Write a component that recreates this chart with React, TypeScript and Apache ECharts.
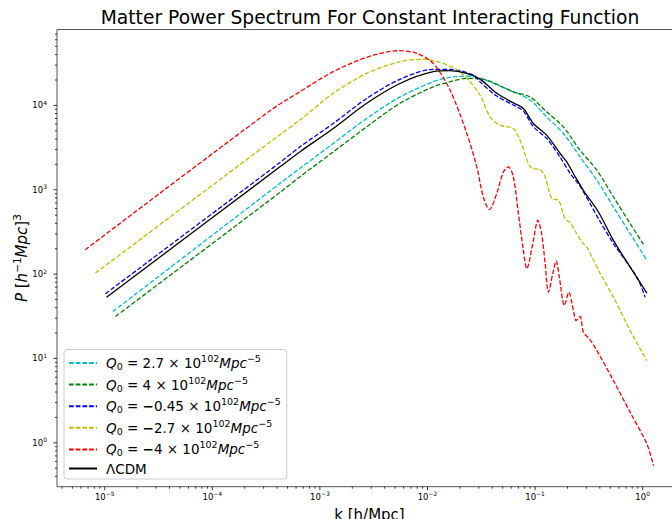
import React, { useEffect, useRef } from 'react';
import * as echarts from 'echarts';

const FONT = "'DejaVu Sans', 'Noto Sans', sans-serif";

// ---- data (k in h/Mpc, P in (Mpc/h)^3) ----
const kCyan = [1.19e-5, 4.25e-4, 6.5e-4, 1.33e-3, 2.72e-3, 5.55e-3, 1.13e-2, 1.62e-2, 2.32e-2, 3.08e-2, 6.28e-2, 8.98e-2, 0.128, 0.183, 0.262, 0.375, 0.535, 0.765, 1.094];
const pCyan = [36, 1190, 1790, 3540, 7010, 12600, 19100, 21500, 22300, 21000, 14500, 11600, 7320, 4650, 2450, 1300, 625, 302, 146];

const kGreen = [1.26e-5, 4.25e-4, 6.5e-4, 1.33e-3, 2.72e-3, 5.55e-3, 1.13e-2, 1.62e-2, 2.32e-2, 3.08e-2, 6.28e-2, 8.98e-2, 0.128, 0.183, 0.262, 0.375, 0.535, 0.765, 1.017];
const pGreen = [31.5, 930, 1420, 2810, 5570, 10600, 16600, 19100, 20900, 20700, 14500, 12600, 8400, 5570, 2940, 1710, 821, 397, 225];

const kBlue = [1.015e-5, 4.25e-4, 6.5e-4, 1.33e-3, 2.72e-3, 5.55e-3, 1.13e-2, 1.62e-2, 2.67e-2, 3.08e-2, 4.4e-2, 6.28e-2, 7.78e-2, 9.64e-2, 0.128, 0.171, 0.212, 0.262, 0.388, 0.535, 0.883, 1.054];
const pBlue = [58.5, 2100, 3220, 6110, 12100, 20400, 26800, 26800, 22900, 19000, 12900, 10100, 8550, 5600, 4060, 2430, 1560, 1100, 455, 230, 92, 53.3];

const kYellow = [8.2e-6, 4.25e-4, 6.5e-4, 1.33e-3, 2.72e-3, 5.55e-3, 9.14e-3, 1.4e-2, 1.62e-2, 1.87e-2, 2.32e-2, 3.08e-2, 3.81e-2, 4.72e-2, 6.28e-2, 7.25e-2, 9.31e-2, 0.111, 0.124, 0.143, 0.165, 0.19, 0.212, 0.244, 0.272, 0.303, 0.349, 0.396, 0.535, 0.765, 1.094];
const pYellow = [103, 4500, 6690, 13900, 24000, 33000, 35200, 31500, 29000, 26500, 21000, 13200, 7320, 5830, 5330, 3870, 1790, 1740, 1420, 785, 750, 455, 404, 302, 240, 209, 146, 106, 53.3, 21.4, 9.4];

const kRed = [6.6e-6, 3.43e-4, 6.5e-4, 1.33e-3, 2.72e-3, 5.35e-3, 7.94e-3, 1.13e-2, 1.62e-2, 2.32e-2, 2.87e-2, 3.3e-2, 3.76e-2, 4.4e-2, 5.07e-2, 5.65e-2, 6.28e-2, 7.0e-2, 7.78e-2, 8.37e-2, 9.64e-2, 0.106, 0.115, 0.124, 0.133, 0.146, 0.157, 0.168, 0.187, 0.206, 0.227, 0.24, 0.262, 0.281, 0.32, 0.375, 0.535, 0.765, 1.094, 1.26];
const pRed = [195, 8630, 14500, 25100, 37200, 44500, 41500, 31500, 15200, 4650, 1870, 821, 582, 901, 1625, 1870, 1420, 521, 191, 116, 251, 435, 302, 133, 61, 101, 143, 92, 42.5, 61, 37, 28.2, 31.5, 20.5, 17.1, 12.4, 5.47, 2.3, 0.97, 0.535];

const kLcdm = [1.04e-5, 4.25e-4, 6.5e-4, 1.33e-3, 2.72e-3, 5.55e-3, 1.13e-2, 1.62e-2, 2.32e-2, 3.08e-2, 4.4e-2, 6.28e-2, 7.78e-2, 9.64e-2, 0.128, 0.171, 0.197, 0.227, 0.281, 0.388, 0.535, 0.765, 1.094];
const pLcdm = [53.3, 1870, 2810, 5330, 10600, 18200, 25100, 25800, 24000, 20500, 13900, 10700, 9210, 6110, 4440, 2690, 2140, 1560, 986, 545, 251, 121, 59.4];

const seriesNames = ['q1', 'q2', 'q3', 'q4', 'q5', 'lcdm'];
const seriesColors = ['#00bfbf', '#008000', '#0000ff', '#bfbf00', '#ff0000', '#000000'];
const legendTexts: Record<string, string> = {
  q1: '{i|Q}{sub|0}{n| = 2.7 × 10}{sup|102}{i|Mpc}{sup|−5}',
  q2: '{i|Q}{sub|0}{n| = 4 × 10}{sup|102}{i|Mpc}{sup|−5}',
  q3: '{i|Q}{sub|0}{n| = }{m|−}{n|0.45 × 10}{sup|102}{i|Mpc}{sup|−5}',
  q4: '{i|Q}{sub|0}{n| = }{m|−}{n|2.7 × 10}{sup|102}{i|Mpc}{sup|−5}',
  q5: '{i|Q}{sub|0}{n| = }{m|−}{n|4 × 10}{sup|102}{i|Mpc}{sup|−5}',
  lcdm: '{n|ΛCDM}',
};

const titleText = 'Matter Power Spectrum For Constant Interacting Function';
const xAxisTitle = 'k [h/Mpc]';

// axis ranges and tick decoration
const X_MIN = 3.6e-6;
const X_MAX = 2.32;
const Y_MIN = 0.302;
const Y_MAX = 79400;
const xMajorTicks = [1e-5, 1e-4, 1e-3, 1e-2, 1e-1, 1];
const yMajorTicks = [1, 10, 100, 1000, 10000];
const minorMultipliers = [2, 3, 4, 5, 6, 7, 8, 9];
const xDecades = [1e-6, 1e-5, 1e-4, 1e-3, 1e-2, 1e-1, 1];
const yDecades = [0.1, 1, 10, 100, 1000, 10000];

function pairs(k: number[], p: number[]) {
  return k.map((v, i) => [v, p[i]]);
}

function minorList(decades: number[], lo: number, hi: number) {
  const out: number[] = [];
  decades.forEach((d) => minorMultipliers.forEach((m) => {
    const v = d * m;
    if (v > lo && v < hi) out.push(v);
  }));
  return out;
}

function expLabel(v: number) {
  const l = Math.log10(v);
  const e = Math.round(l);
  if (Math.abs(l - e) > 1e-6) return '';
  return '{b|10}{s|' + (e < 0 ? '−' : '') + Math.abs(e) + '}';
}

const tickRich = {
  b: { fontFamily: FONT, fontSize: 8.5, color: '#000', lineHeight: 12 },
  s: { fontFamily: FONT, fontSize: 6, color: '#000', lineHeight: 12, padding: [0, 0, 6, 0] },
};

export default function App() {
  const ref = useRef<HTMLDivElement>(null);
  useEffect(() => {
    if (!ref.current) return;
    const chart = echarts.init(ref.current, null, { renderer: 'svg' });
    const lineData = [
      pairs(kCyan, pCyan), pairs(kGreen, pGreen), pairs(kBlue, pBlue),
      pairs(kYellow, pYellow), pairs(kRed, pRed), pairs(kLcdm, pLcdm),
    ];
    const lineSeries = seriesNames.map((name, i) => ({
      type: 'line',
      name,
      data: lineData[i],
      symbol: 'none',
      showSymbol: false,
      smooth: 0.3,
      clip: true,
      z: 2 + i,
      itemStyle: { color: seriesColors[i] },
      lineStyle: {
        color: seriesColors[i],
        width: 1.3,
        type: name === 'lcdm' ? 'solid' : [4.7, 2.0],
      },
    }));

    const xTickData = [
      ...xMajorTicks.map((v) => [v, 1, 3.5]),
      ...minorList(xDecades, X_MIN, X_MAX).map((v) => [v, 1, 2]),
    ];
    const yTickData = [
      ...yMajorTicks.map((v) => [1e-3, v, 3.5]),
      ...minorList(yDecades, Y_MIN, Y_MAX).map((v) => [1e-3, v, 2]),
    ];

    const option: any = {
      animation: false,
      backgroundColor: '#ffffff',
      title: {
        text: titleText,
        left: 370,
        top: 8,
        textAlign: 'center',
        padding: 0,
        textStyle: { fontFamily: FONT, fontSize: 18.7, fontWeight: 'normal', color: '#000' },
      },
      grid: {
        left: 57,
        top: 29.5,
        width: 625,
        height: 457.2,
        show: true,
        borderColor: '#555',
        borderWidth: 1,
        backgroundColor: 'transparent',
        containLabel: false,
        outerBoundsMode: 'none',
      },
      xAxis: {
        type: 'log',
        logBase: 10,
        min: X_MIN,
        max: X_MAX,
        name: xAxisTitle,
        nameLocation: 'middle',
        nameGap: 16,
        nameTextStyle: { fontFamily: FONT, fontSize: 15, color: '#000' },
        axisLine: { show: false },
        axisTick: { show: false },
        splitLine: { show: false },
        minorTick: { show: false },
        axisLabel: {
          margin: 4,
          formatter: (v: number) => expLabel(v),
          rich: tickRich,
          hideOverlap: false,
        },
      },
      yAxis: {
        type: 'log',
        logBase: 10,
        min: Y_MIN,
        max: Y_MAX,
        name: '{i|P} {n|[}{i|h}{sup|−1}{i|Mpc}{n|]}{sup|3}',
        nameLocation: 'middle',
        nameGap: 26,
        nameMoveOverlap: false,
        nameRotate: 90,
        nameTextStyle: {
          fontFamily: FONT,
          fontSize: 15,
          color: '#000',
          rich: {
            n: { fontFamily: FONT, fontSize: 15, color: '#000', lineHeight: 18 },
            i: { fontFamily: FONT, fontSize: 15, fontStyle: 'italic', color: '#000', lineHeight: 18 },
            sup: { fontFamily: FONT, fontSize: 10.5, color: '#000', lineHeight: 18, padding: [0, 0, 10, 0] },
          },
        },
        axisLine: { show: false },
        axisTick: { show: false },
        splitLine: { show: false },
        minorTick: { show: false },
        axisLabel: {
          margin: 10,
          formatter: (v: number) => expLabel(v),
          rich: tickRich,
          hideOverlap: false,
        },
      },
      legend: {
        data: seriesNames,
        orient: 'vertical',
        left: 64,
        top: 349.5,
        padding: [4, 6, 3.5, 4],
        itemWidth: 28,
        itemHeight: 14,
        itemGap: 2.6,
        selectedMode: false,
        backgroundColor: 'rgba(255,255,255,0.8)',
        borderColor: '#cccccc',
        borderWidth: 1,
        borderRadius: 3,
        itemStyle: { opacity: 0, color: 'transparent', borderWidth: 0 },
        formatter: (name: string) => legendTexts[name],
        textStyle: {
          fontFamily: FONT,
          fontSize: 13.5,
          color: '#000',
          padding: [0, 0, 0, 4],
          rich: {
            n: { fontFamily: FONT, fontSize: 13.5, color: '#000', lineHeight: 16 },
            m: { fontFamily: FONT, fontSize: 13.5, fontWeight: 'bold', color: '#000', lineHeight: 16 },
            i: { fontFamily: FONT, fontSize: 13.5, fontStyle: 'italic', color: '#000', lineHeight: 16 },
            sub: { fontFamily: FONT, fontSize: 9.5, color: '#000', lineHeight: 16, padding: [7, 0, 0, 0] },
            sup: { fontFamily: FONT, fontSize: 9.5, color: '#000', lineHeight: 16, padding: [0, 0, 9, 0] },
          },
        },
      },
      series: [
        ...lineSeries,
        {
          type: 'custom',
          name: '_xticks',
          silent: true,
          clip: false,
          z: 20,
          data: xTickData,
          encode: { x: 0, y: 1 },
          renderItem: (params: any, api: any) => {
            const cs = params.coordSys;
            const x = api.coord([api.value(0), 1])[0];
            const len = api.value(2);
            const yb = cs.y + cs.height;
            return {
              type: 'line',
              shape: { x1: x, y1: yb, x2: x, y2: yb + len },
              style: { stroke: '#000', lineWidth: 0.8 },
            };
          },
        },
        {
          type: 'custom',
          name: '_yticks',
          silent: true,
          clip: false,
          z: 20,
          data: yTickData,
          encode: { x: 0, y: 1 },
          renderItem: (params: any, api: any) => {
            const cs = params.coordSys;
            const y = api.coord([1e-3, api.value(1)])[1];
            const len = api.value(2);
            const xl = cs.x;
            return {
              type: 'line',
              shape: { x1: xl, y1: y, x2: xl - len, y2: y },
              style: { stroke: '#000', lineWidth: 0.8 },
            };
          },
        },
      ],
    };
    chart.setOption(option);
    return () => chart.dispose();
  }, []);
  return (
    <div
      ref={ref}
      style={{ position: 'fixed', left: 0, top: 0, width: 672, height: 519, background: '#fff' }}
    />
  );
}
